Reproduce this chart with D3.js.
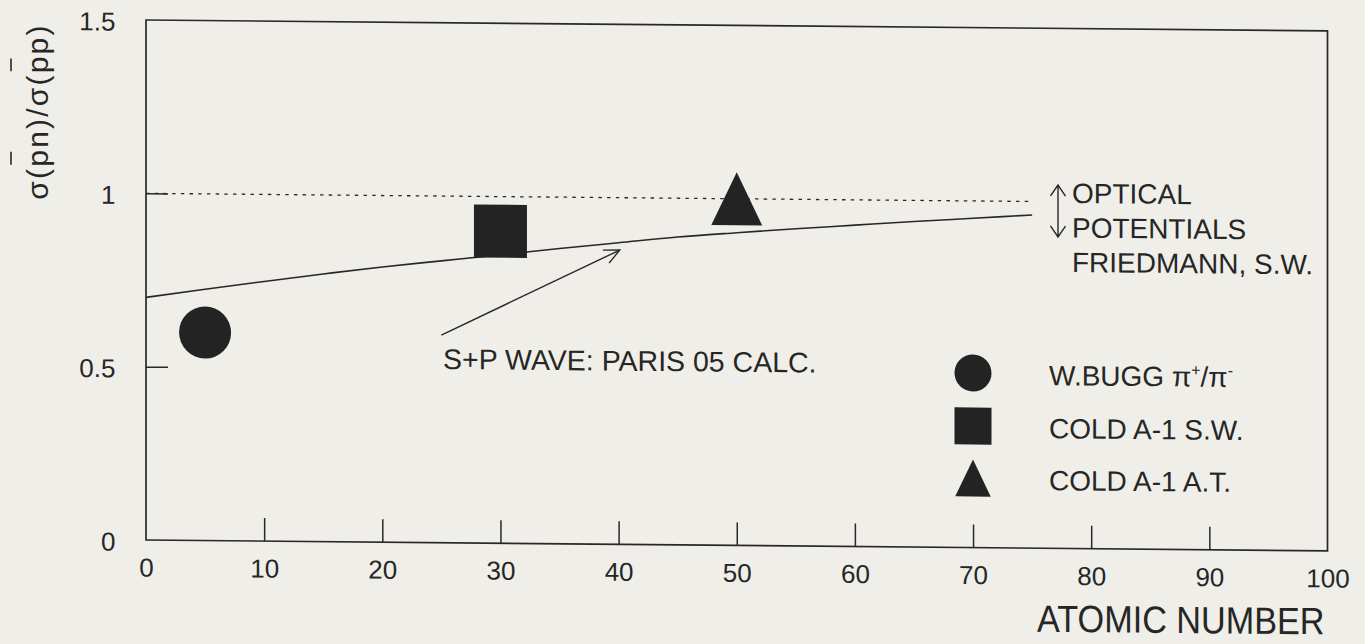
<!DOCTYPE html>
<html>
<head>
<meta charset="utf-8">
<script src="https://cdn.jsdelivr.net/npm/d3@7"></script>
<style>
  html, body { margin: 0; padding: 0; background: #f0eee8; }
  svg { display: block; }
  text { font-family: "Liberation Sans", Arial, Helvetica, sans-serif; fill: #262626; }
</style>
</head>
<body>
<svg id="chart" width="1365" height="644"></svg>
<script>
// ---- data ----
const xTickValues = [0, 10, 20, 30, 40, 50, 60, 70, 80, 90, 100];
const xTickLabels = ["0", "10", "20", "30", "40", "50", "60", "70", "80", "90", "100"];
const yTickValues = [0, 0.5, 1, 1.5];
const yTickLabels = ["0", "0.5", "1", "1.5"];

// S+P wave calculation (Paris 05)
const curveZ     = [0, 5, 10, 15, 20, 25, 30, 35, 40, 45, 50, 55, 60, 65, 70, 75];
const curveRatio = [0.700, 0.725, 0.749, 0.772, 0.794, 0.813, 0.832, 0.852, 0.870, 0.888, 0.902, 0.915, 0.927, 0.939, 0.950, 0.961];

// optical-potential reference level
const refLevel = 1;
const refZRange = [0, 75];

// measurements
const pointZ      = [5, 30, 50];
const pointRatio  = [0.6, 0.9, 1.0];
const pointSymbol = ["circle", "square", "triangle"];
const legendLabels = ["W.BUGG", "COLD A-1 S.W.", "COLD A-1 A.T."];

// annotation arrow (Z, ratio)
const arrowFrom = [25.0, 0.599];
const arrowTo   = [40.1, 0.849];

// ---- layout ----
const svg = d3.select("#chart");
const margin = { left: 146, top: 20 };
const W = 1181.5, H = 520;
const tilt = Math.atan(0.0092) * 180 / Math.PI;
const ink = "#282828";

const x = d3.scaleLinear().domain([0, 100]).range([0, W]);
const y = d3.scaleLinear().domain([0, 1.5]).range([H, 0]);

const g = svg.append("g")
  .attr("transform", `translate(${margin.left},${margin.top}) skewY(${tilt})`);

// frame
g.append("rect")
  .attr("x", 0).attr("y", 0).attr("width", W).attr("height", H)
  .attr("fill", "none").attr("stroke", ink).attr("stroke-width", 1.7);

// x axis
const xAxis = d3.axisBottom(x)
  .tickValues(xTickValues)
  .tickFormat((d, i) => xTickLabels[i])
  .tickSizeInner(-23).tickSizeOuter(0).tickPadding(18);
const gx = g.append("g").attr("transform", `translate(0,${H})`).call(xAxis);
gx.select(".domain").remove();
gx.selectAll(".tick line").attr("stroke", ink).attr("stroke-width", 1.5)
  .filter(d => d === 0 || d === 100).remove();
gx.selectAll(".tick text").attr("font-size", 26).attr("fill", ink)
  .style("font-family", '"Liberation Sans", Arial, sans-serif');

// y axis
const yAxis = d3.axisLeft(y)
  .tickValues(yTickValues)
  .tickFormat((d, i) => yTickLabels[i])
  .tickSizeInner(-22).tickSizeOuter(0).tickPadding(30.5);
const gy = g.append("g").call(yAxis);
gy.select(".domain").remove();
gy.selectAll(".tick line").attr("stroke", ink).attr("stroke-width", 1.5)
  .filter(d => d === 0 || d === 1.5).remove();
gy.selectAll(".tick text").attr("font-size", 26).attr("fill", ink).attr("dy", "0.4em")
  .style("font-family", '"Liberation Sans", Arial, sans-serif');

// dotted reference level
g.append("line")
  .attr("x1", x(refZRange[0])).attr("x2", x(refZRange[1]))
  .attr("y1", y(refLevel)).attr("y2", y(refLevel))
  .attr("stroke", ink).attr("stroke-width", 1.3).attr("stroke-dasharray", "3.5 5.2");

// calculated curve
const line = d3.line().x(d => x(d[0])).y(d => y(d[1])).curve(d3.curveMonotoneX);
g.append("path")
  .datum(curveZ.map((z, i) => [z, curveRatio[i]]))
  .attr("d", line)
  .attr("fill", "none").attr("stroke", ink).attr("stroke-width", 1.6);

// marker shapes
function markerPath(kind, size) {
  const p = d3.path();
  if (kind === "circle") {
    p.arc(0, 0, size / 2, 0, 2 * Math.PI);
  } else if (kind === "square") {
    p.rect(-size / 2, -size / 2, size, size);
  } else {
    const w = size * 0.96, h = size;
    p.moveTo(0, -h / 2); p.lineTo(w / 2, h / 2); p.lineTo(-w / 2, h / 2); p.closePath();
  }
  return p.toString();
}
const markerSize = { circle: 52, square: 53, triangle: 53 };

g.selectAll("path.point")
  .data(pointZ.map((z, i) => ({ z, r: pointRatio[i], s: pointSymbol[i] })))
  .join("path")
  .attr("class", "point")
  .attr("transform", d => `translate(${x(d.z)},${y(d.r)})`)
  .attr("d", d => markerPath(d.s, markerSize[d.s]))
  .attr("fill", "#232323");

// arrow to the curve
const ax0 = x(arrowFrom[0]), ay0 = y(arrowFrom[1]);
const ax1 = x(arrowTo[0]), ay1 = y(arrowTo[1]);
const ang = Math.atan2(ay1 - ay0, ax1 - ax0);
const wing = 17, spread = 25 * Math.PI / 180;
g.append("line")
  .attr("x1", ax0).attr("y1", ay0).attr("x2", ax1).attr("y2", ay1)
  .attr("stroke", ink).attr("stroke-width", 1.4);
g.append("path")
  .attr("d", `M${ax1 - wing * Math.cos(ang - spread)},${ay1 - wing * Math.sin(ang - spread)}` +
             `L${ax1},${ay1}` +
             `L${ax1 - wing * Math.cos(ang + spread)},${ay1 - wing * Math.sin(ang + spread)}`)
  .attr("fill", "none").attr("stroke", ink).attr("stroke-width", 1.4);

g.append("text")
  .attr("x", 297).attr("y", 346.3)
  .attr("font-size", 28.5)
  .text("S+P WAVE: PARIS 05 CALC.");

// optical potentials note with double arrow
const dax = 912, daTop = 156.6, daBot = 208.6;
g.append("path")
  .attr("d", `M${dax},${daTop}V${daBot}` +
             `M${dax - 7.5},${daTop + 11}L${dax},${daTop}L${dax + 7.5},${daTop + 11}` +
             `M${dax - 7.5},${daBot - 11}L${dax},${daBot}L${dax + 7.5},${daBot - 11}`)
  .attr("fill", "none").attr("stroke", ink).attr("stroke-width", 1.4);
const noteLines = ["OPTICAL", "POTENTIALS", "FRIEDMANN, S.W."];
g.append("g").selectAll("text")
  .data(noteLines).join("text")
  .attr("x", 926).attr("y", (d, i) => 174.5 + i * 34.5)
  .attr("font-size", 28)
  .text(d => d);

// legend
const legend = g.append("g");
const legRowY = [345.4, 398.4, 450.4];
const legendSize = { circle: 37, square: 37, triangle: 37 };
pointSymbol.forEach((s, i) => {
  legend.append("path")
    .attr("transform", `translate(827,${legRowY[i]})`)
    .attr("d", markerPath(s, legendSize[s]))
    .attr("fill", "#232323");
  const t = legend.append("text")
    .attr("x", 903).attr("y", legRowY[i] + 11.5)
    .attr("font-size", 28)
    .text(legendLabels[i]);
  if (i === 0) {
    t.append("tspan").text(" π");
    t.append("tspan").attr("font-size", 16).attr("dy", -11).text("+");
    t.append("tspan").attr("dy", 11).text("/π");
    t.append("tspan").attr("font-size", 16).attr("dy", -11).text("-");
  }
});

// x axis title
g.append("text")
  .attr("text-anchor", "end")
  .attr("transform", `translate(${W - 3},${H + 83.5}) scale(0.9,1)`)
  .attr("font-size", 38)
  .text("ATOMIC NUMBER");

// y axis title with antiproton bars
const yTitle = svg.append("g").attr("transform", "translate(48,111.5) rotate(-90)");
const yt = yTitle.append("text")
  .attr("text-anchor", "middle")
  .attr("font-size", 30)
  .attr("letter-spacing", 2.2)
  .text("σ(pn)/σ(pp)");
const node = yt.node();
[2, 8].forEach(ci => {
  const ext = node.getExtentOfChar(ci);
  yTitle.append("line")
    .attr("x1", ext.x + 2).attr("x2", ext.x + ext.width - 4)
    .attr("y1", -37).attr("y2", -37)
    .attr("stroke", ink).attr("stroke-width", 1.6);
});
</script>
</body>
</html>
